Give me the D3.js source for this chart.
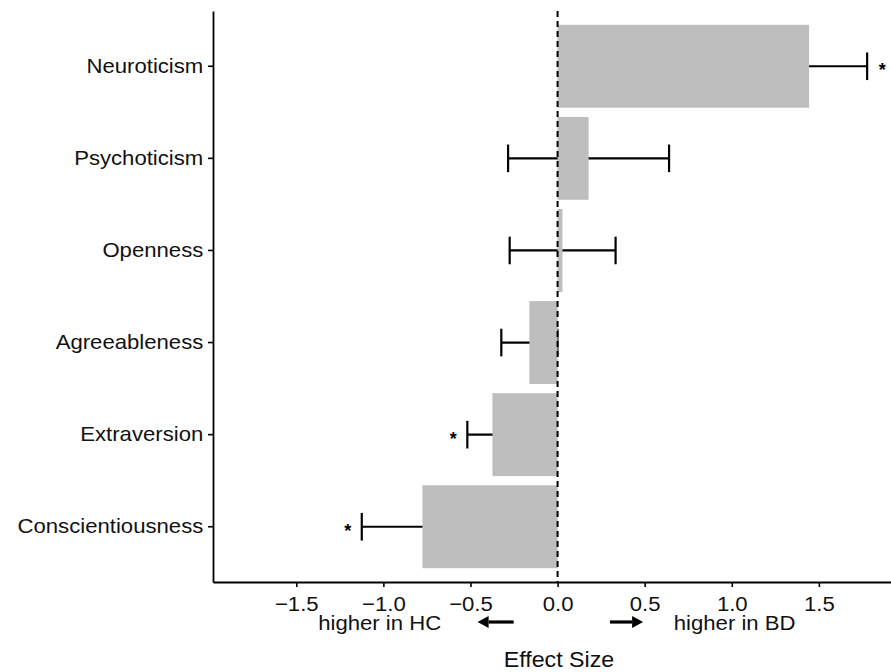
<!DOCTYPE html>
<html>
<head>
<meta charset="utf-8">
<script src="https://cdn.jsdelivr.net/npm/d3@7"></script>
<style>
  body { margin: 0; background: #fff; }
  svg { display: block; font-family: "Liberation Sans", Arial, Helvetica, sans-serif; }
</style>
</head>
<body>
<svg id="chart" width="891" height="672"></svg>
<script>
// traits, top to bottom
var traits = ["Neuroticism", "Psychoticism", "Openness", "Agreeableness", "Extraversion", "Conscientiousness"];
var effect = [1.444, 0.178, 0.028, -0.162, -0.374, -0.776];
var ciLow  = [1.111, -0.284, -0.275, -0.323, -0.518, -1.124];
var ciHigh = [1.777, 0.640, 0.333, -0.001, -0.230, -0.428];
var signif = [true, false, false, false, true, true];
var xTicks = [-1.5, -1.0, -0.5, 0.0, 0.5, 1.0, 1.5];

// side notes under the axis
var noteText = ["higher in HC", "higher in BD"];
var noteAt = [-0.668, 0.667];
var arrowFrom = [-0.252, 0.301];
var arrowTo = [-0.459, 0.491];

(function() {

  var panelLeft = 213, panelRight = 891, panelTop = 11, panelBottom = 582;
  var stretch = "scale(1.08,1)";

  var svg = d3.select("#chart");

  var x = d3.scaleLinear()
    .domain([-1.978, 1.914])
    .range([panelLeft, panelRight]);

  var y = d3.scaleBand()
    .domain(traits)
    .range([panelTop, panelBottom])
    .paddingInner(0.1)
    .paddingOuter(0.15);

  var rows = traits.map(function(t, i) {
    return { trait: t, d: effect[i], lo: ciLow[i], hi: ciHigh[i], star: signif[i] };
  });

  var capH = y.step() * 0.3;
  var mid = function(d) { return y(d.trait) + y.bandwidth() / 2; };

  // error bars go under the bars
  var eb = svg.append("g")
    .attr("stroke", "#000")
    .attr("stroke-width", 2.2)
    .selectAll("g")
    .data(rows)
    .enter()
    .append("g")
    .attr("transform", function(d) { return "translate(0," + mid(d) + ")"; });

  eb.append("line")
    .attr("x1", function(d) { return x(d.lo); })
    .attr("x2", function(d) { return x(d.hi); });
  eb.append("line")
    .attr("x1", function(d) { return x(d.lo); })
    .attr("x2", function(d) { return x(d.lo); })
    .attr("y1", -capH / 2).attr("y2", capH / 2);
  eb.append("line")
    .attr("x1", function(d) { return x(d.hi); })
    .attr("x2", function(d) { return x(d.hi); })
    .attr("y1", -capH / 2).attr("y2", capH / 2);

  svg.append("g")
    .selectAll("rect")
    .data(rows)
    .enter()
    .append("rect")
    .attr("x", function(d) { return x(Math.min(0, d.d)); })
    .attr("width", function(d) { return Math.abs(x(d.d) - x(0)); })
    .attr("y", function(d) { return y(d.trait); })
    .attr("height", y.bandwidth())
    .attr("fill", "#bebebe");

  // zero line
  svg.append("line")
    .attr("x1", x(0)).attr("x2", x(0))
    .attr("y1", panelTop).attr("y2", panelBottom)
    .attr("stroke", "#000")
    .attr("stroke-width", 2)
    .attr("stroke-dasharray", "6,4");

  // significance stars
  svg.append("g")
    .selectAll("text")
    .data(rows.filter(function(d) { return d.star; }))
    .enter()
    .append("text")
    .attr("transform", function(d) {
      var px = d.d > 0 ? x(d.hi) + 15 : x(d.lo) - 14;
      return "translate(" + px + "," + (mid(d) + 10) + ")";
    })
    .attr("text-anchor", "middle")
    .attr("font-size", "18px")
    .attr("font-weight", "bold")
    .text("*");

  // axes
  var yAxis = d3.axisLeft(y).tickSize(5).tickSizeOuter(0).tickPadding(4);
  var xAxis = d3.axisBottom(x).tickValues(xTicks).tickFormat(d3.format(".1f"))
    .tickSize(5).tickSizeOuter(0).tickPadding(9);

  var gy = svg.append("g")
    .attr("transform", "translate(" + panelLeft + ",0)")
    .call(yAxis);
  var gx = svg.append("g")
    .attr("transform", "translate(0," + panelBottom + ")")
    .call(xAxis);

  [gx, gy].forEach(function(g) {
    g.select(".domain").attr("stroke", "#000").attr("stroke-width", 1.8);
    g.selectAll(".tick line").attr("stroke", "#000").attr("stroke-width", 1.6);
    g.selectAll(".tick text")
      .attr("font-size", "20.5px")
      .attr("fill", "#111")
      .attr("transform", stretch);
  });

  // direction notes
  var notes = svg.append("g");
  noteText.forEach(function(t, i) {
    notes.append("text")
      .attr("transform", "translate(" + x(noteAt[i]) + ",630) " + stretch)
      .attr("text-anchor", i === 0 ? "end" : "start")
      .attr("font-size", "20.5px")
      .attr("fill", "#111")
      .text(t);

    var x0 = x(arrowFrom[i]), x1 = x(arrowTo[i]);
    var dir = x1 > x0 ? 1 : -1;
    var headLen = 11, headW = 6;
    notes.append("line")
      .attr("x1", x0).attr("x2", x1 - dir * headLen)
      .attr("y1", 622).attr("y2", 622)
      .attr("stroke", "#000")
      .attr("stroke-width", 3.2);
    notes.append("path")
      .attr("d", "M" + x1 + ",622L" + (x1 - dir * headLen) + "," + (622 - headW) +
                 "L" + (x1 - dir * headLen) + "," + (622 + headW) + "Z")
      .attr("fill", "#000");
  });

  svg.append("text")
    .attr("transform", "translate(" + ((panelLeft + panelRight) / 2 + 7) + ",667) " + stretch)
    .attr("text-anchor", "middle")
    .attr("font-size", "21.5px")
    .attr("fill", "#111")
    .text("Effect Size");

}());
</script>
</body>
</html>
